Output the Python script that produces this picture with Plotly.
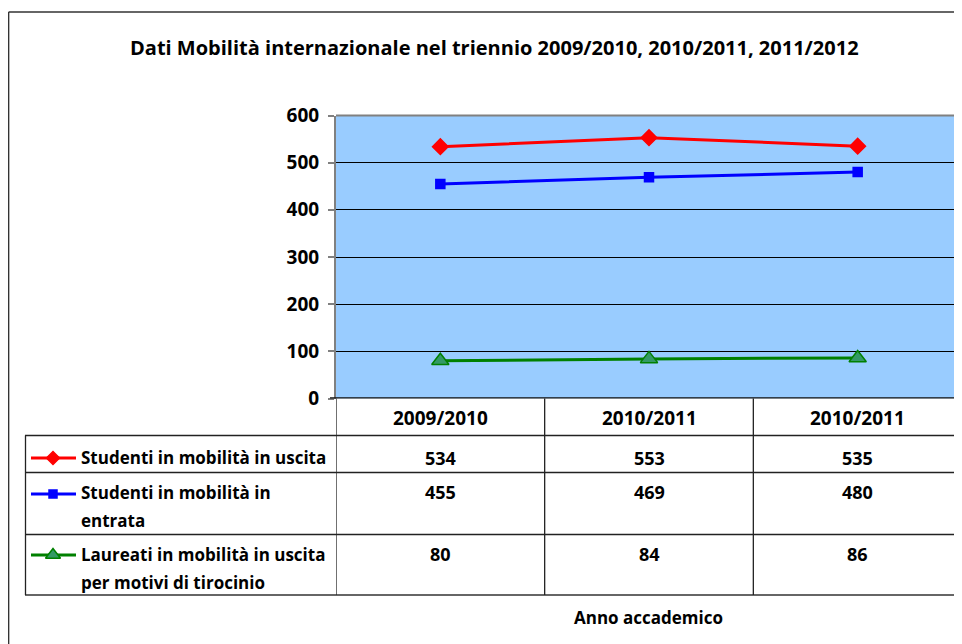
import plotly.graph_objects as go

OFF = 8  # page body margin offset
PAGE_W, PAGE_H = 962, 644
W, H = PAGE_W - OFF, PAGE_H - OFF

title = "Dati Mobilità internazionale nel triennio 2009/2010, 2010/2011, 2011/2012"
categories = ["2009/2010", "2010/2011", "2010/2011"]
series_names = [
    "Studenti in mobilità in uscita",
    "Studenti in mobilità in entrata",
    "Laureati in mobilità in uscita per motivi di tirocinio",
]
series_lines = [
    ["Studenti in mobilità in uscita"],
    ["Studenti in mobilità in", "entrata"],
    ["Laureati in mobilità in uscita", "per motivi di tirocinio"],
]
uscita = [534, 553, 535]
entrata = [455, 469, 480]
tirocinio = [80, 84, 86]
values = [uscita, entrata, tirocinio]
y_ticks = [0, 100, 200, 300, 400, 500, 600]
x_title = "Anno accademico"

colors = ["#FF0000", "#0000FF", "#008000"]
symbols = ["diamond", "square", "triangle-up"]
msizes = [12, 9, 15]
key_sizes = [10, 8, 13]
mfill = ["#FF0000", "#0000FF", "#339966"]
mline = ["#FF0000", "#0000FF", "#008000"]

FONT = "Open Sans"

def px(x):
    return (x - OFF) / W

def py(y):
    return 1 - (y - OFF) / H

# plot area in page pixels
L, R, T, B = 336, 962, 115.5, 398.5
EDGE = PAGE_W

fig = go.Figure()

for i, vals in enumerate(values):
    fig.add_trace(go.Scatter(
        x=list(range(len(categories))), y=vals, mode="lines+markers",
        name=series_names[i],
        line=dict(color=colors[i], width=3),
        marker=dict(symbol=symbols[i], size=msizes[i], color=mfill[i],
                    line=dict(color=mline[i], width=1.5)),
        showlegend=False, cliponaxis=False,
    ))

# legend keys in the data table (auxiliary pixel axis)
row_key_y = [458, 494, 555]
for i in range(3):
    fig.add_trace(go.Scatter(
        x=[31, 53, 76], y=[row_key_y[i]] * 3, mode="lines",
        line=dict(color=colors[i], width=3),
        xaxis="x2", yaxis="y2", showlegend=False, hoverinfo="skip",
    ))
    fig.add_trace(go.Scatter(
        x=[53], y=[row_key_y[i]], mode="markers",
        marker=dict(symbol=symbols[i], size=key_sizes[i], color=mfill[i],
                    line=dict(color=mline[i], width=1.5)),
        xaxis="x2", yaxis="y2", showlegend=False, hoverinfo="skip",
    ))

shapes = []
shapes.append(dict(type="rect", xref="x", yref="y", x0=-0.5, x1=2.5, y0=0, y1=600,
                   fillcolor="#99CCFF", line=dict(width=0), layer="below"))
shapes.append(dict(type="line", xref="paper", yref="paper", x0=px(L), x1=px(EDGE),
                   y0=py(T), y1=py(T), line=dict(color="#808080", width=2)))
# outer chart border (top and left)
shapes.append(dict(type="line", xref="paper", yref="paper", x0=px(8.6), x1=px(EDGE),
                   y0=py(12), y1=py(12), line=dict(color="#333333", width=1.5)))
shapes.append(dict(type="line", xref="paper", yref="paper", x0=px(8.6), x1=px(8.6),
                   y0=py(12), y1=py(PAGE_H), line=dict(color="#333333", width=1.5)))
for yy, c in [(435.5, "#222222"), (472.5, "#222222"), (534.5, "#222222"), (595, "#666666")]:
    shapes.append(dict(type="line", xref="paper", yref="paper", x0=px(25), x1=px(EDGE),
                       y0=py(yy), y1=py(yy), line=dict(color=c, width=1.3 if c == "#222222" else 2)))
shapes.append(dict(type="line", xref="paper", yref="paper", x0=px(25.5), x1=px(25.5),
                   y0=py(435.5), y1=py(595), line=dict(color="#222222", width=1.3)))
for xv in [-0.5, 0.5, 1.5]:
    shapes.append(dict(type="line", xref="x", yref="paper", x0=xv, x1=xv,
                       y0=py(B), y1=py(595), line=dict(color="#222222", width=1.3)))
shapes.append(dict(type="line", xref="paper", yref="y", x0=px(L - 6), x1=px(EDGE),
                   y0=0, y1=0, line=dict(color="#111111", width=2.5)))

fs = 17
annotations = []
annotations.append(dict(text="<b>" + title + "</b>", xref="paper", yref="paper",
                        x=px(495), y=py(47), showarrow=False,
                        font=dict(family=FONT, size=20, color="#000000"),
                        xanchor="center", yanchor="middle"))
for j, c in enumerate(categories):
    annotations.append(dict(text="<b>" + c + "</b>", xref="x", yref="paper", x=j, y=py(418),
                            showarrow=False, font=dict(family=FONT, size=19, color="#000"),
                            xanchor="center", yanchor="middle"))
row_val_y = [458, 492, 554]
for i, vals in enumerate(values):
    for j, v in enumerate(vals):
        annotations.append(dict(text="<b>%d</b>" % v, xref="x", yref="paper", x=j,
                                y=py(row_val_y[i]), showarrow=False,
                                font=dict(family=FONT, size=18, color="#000"),
                                xanchor="center", yanchor="middle"))
for i, lines in enumerate(series_lines):
    for k, ln in enumerate(lines):
        annotations.append(dict(text="<b>" + ln + "</b>", xref="paper", yref="paper",
                                x=px(79), y=py(row_val_y[i] + 28 * k), showarrow=False,
                                font=dict(family=FONT, size=fs, color="#000"),
                                xanchor="left", yanchor="middle"))
annotations.append(dict(text="<b>" + x_title + "</b>", xref="paper", yref="paper",
                        x=px(648), y=py(617), showarrow=False,
                        font=dict(family=FONT, size=17, color="#000"),
                        xanchor="center", yanchor="middle"))

fig.update_layout(
    width=W, height=H, autosize=False,
    margin=dict(l=0, r=0, t=0, b=0, pad=0, autoexpand=False),
    paper_bgcolor="#FFFFFF", plot_bgcolor="rgba(0,0,0,0)",
    shapes=shapes, annotations=annotations, showlegend=False,
    xaxis=dict(domain=[px(L), min(1.0, px(R))], range=[-0.5, 2.5], tickvals=[0, 1, 2],
               showticklabels=False, showgrid=False, zeroline=False, ticks="",
               fixedrange=True, automargin=False),
    yaxis=dict(domain=[py(B), py(T)], range=[0, 600], tickvals=y_ticks,
               ticktext=["<b>%d</b>" % t for t in y_ticks],
               showgrid=True, gridcolor="#000000", gridwidth=1, zeroline=False,
               showline=True, linecolor="#808080", linewidth=2,
               ticks="outside", ticklen=6, tickcolor="#808080", tickwidth=1.5,
               tickfont=dict(family=FONT, size=19, color="#000"), ticklabelstandoff=5,
               fixedrange=True, automargin=False),
    xaxis2=dict(domain=[0, 1], range=[OFF, W + OFF], visible=False, fixedrange=True, automargin=False),
    yaxis2=dict(domain=[0, 1], range=[H + OFF, OFF], visible=False, fixedrange=True,
                anchor="x2", automargin=False),
)

fig.write_html("out.html")
